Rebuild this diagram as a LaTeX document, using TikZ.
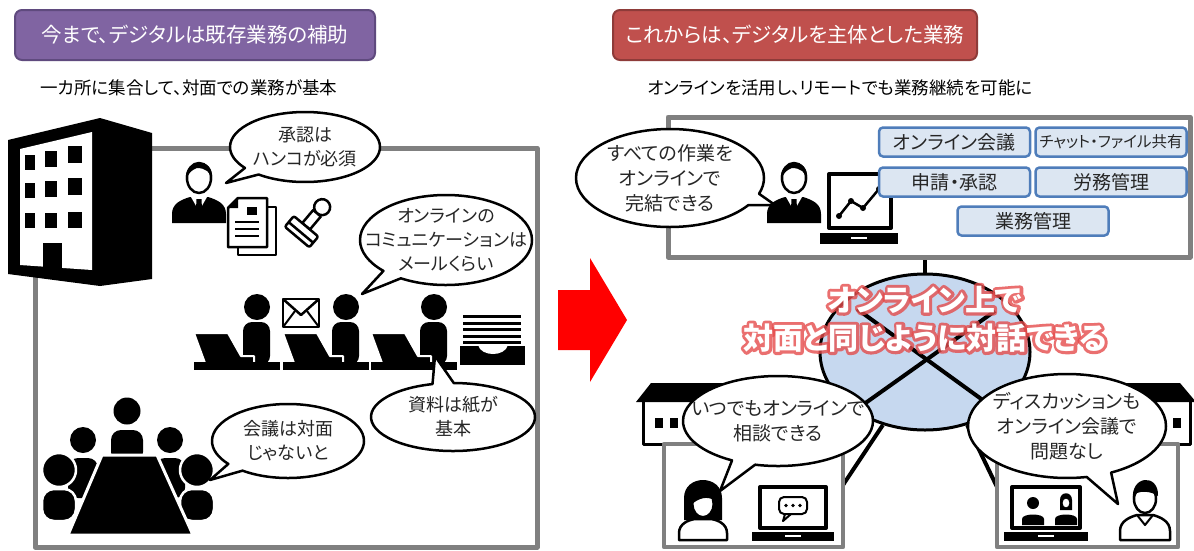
\documentclass[tikz,border=0pt]{standalone}
\usepackage{fontspec}
\setmainfont{Noto Sans CJK JP}[RawFeature=+palt]
\usetikzlibrary{shapes.callouts,shapes.geometric,calc}

\definecolor{hdrpurple}{HTML}{8064A2}
\definecolor{hdrpurpleedge}{HTML}{5F4A7E}
\definecolor{hdrred}{HTML}{C0504D}
\definecolor{hdrrededge}{HTML}{8E3B39}
\definecolor{panelgray}{HTML}{808080}
\definecolor{tagfill}{HTML}{DCE6F2}
\definecolor{tagedge}{HTML}{4F7DBA}
\definecolor{netblue}{HTML}{C6D8EF}
\definecolor{txtdark}{HTML}{262626}

\newcommand\onlinetalk{オンライン上で\\対面と同じように対話できる}
% outline-only text (PDF text render mode 1) for the red halo
\newcommand\haloon{\special{pdf:code 1 Tr 1 j 1 J 6 w 0.90 0.30 0.30 RG}}
\newcommand\halooff{\special{pdf:code 0 Tr}}

\tikzset{
  hdr/.style={rounded corners=7pt, line width=2pt, minimum height=50pt, text=white,
    font=\fontsize{20.5pt}{25pt}\selectfont},
  subline/.style={font=\fontsize{17.5pt}{21pt}\selectfont, text=black},
  panel/.style={draw=panelgray, line width=5pt, inner sep=0pt},
  bubble/.style={ellipse callout, draw=black, fill=white, line width=2.5pt, inner sep=0pt},
  btxt/.style={align=center, text=txtdark, font=\fontsize{18pt}{24pt}\selectfont, inner sep=0pt},
  rtxt/.style={align=center, text=txtdark, font=\fontsize{19pt}{25pt}\selectfont, inner sep=0pt},
  tag/.style={draw=tagedge, fill=tagfill, line width=2.5pt, rounded corners=4pt,
    minimum width=151pt, minimum height=29pt, inner sep=0pt, text=txtdark,
    font=\fontsize{19pt}{21pt}\selectfont},
  link/.style={line width=4pt, black},
  ctxt/.style={align=center, inner sep=0pt, font=\fontsize{30pt}{38pt}\selectfont\bfseries},
  % man in a suit, origin at the face centre
  suitman/.pic={
    \fill (-27,47) -- (-27,38) .. controls (-27,28) and (-19,24) .. (-9,21) -- (9,21)
      .. controls (19,24) and (27,28) .. (27,38) -- (27,47) -- cycle;
    \fill[white] (-8,21) -- (0,35) -- (8,21) -- cycle;
    \fill (-2.5,23) -- (2.5,23) -- (3,33) -- (0,37) -- (-3,33) -- cycle;
    \filldraw[fill=white, line width=2.5pt] (0,2) ellipse (12 and 15);
    \fill (-13,4) .. controls (-16,-17) and (16,-21) .. (13,4)
      .. controls (12,-4) and (6,-8) .. (-2,-8) .. controls (-8,-6) and (-11,-2) .. (-13,4) -- cycle;
  },
  % office worker at a laptop, origin at the head centre
  worker/.pic={
    \fill[rounded corners=9pt] (-14,58) -- (-14,15) -- (13,15) -- (13,58) -- cycle;
    \filldraw[fill=black, draw=white, line width=2pt] (-63,26) -- (-29,26) -- (-16,49)
      -- (-3,49) -- (-3,56) -- (-52,56) -- cycle;
    \fill (0,0) circle (13);
    \fill (-63,55) rectangle (23,63);
  },
}

\begin{document}
\begin{tikzpicture}[x=1pt, y=-1pt, line join=round]
\useasboundingbox (0,0) rectangle (1194,550);
\fill[white] (0,0) rectangle (1194,550);

% ---------- headings ----------
\node[hdr, fill=hdrpurple, draw=hdrpurpleedge, minimum width=360pt] (hdrL) at (195,35)
  {今まで、デジタルは既存業務の補助};
\node[hdr, fill=hdrred, draw=hdrrededge, minimum width=364pt] (hdrR) at (795,35)
  {これからは、デジタルを主体とした業務};
\node[subline] (subL) at (189,88) {一カ所に集合して、対面での業務が基本};
\node[subline] (subR) at (840,88) {オンラインを活用し、リモートでも業務継続を可能に};

% ---------- left: office ----------
\node[panel, minimum width=502pt, minimum height=399pt] (lpanel) at (286,347.5) {};

% building
\fill (8,140) -- (100,118) -- (152,133) -- (152,279) -- (100,286) -- (8,274) -- cycle;
\fill[white] (20,149) -- (92,132) -- (92,270) -- (20,265) -- cycle;
\fill (25,155) rectangle (35,170);
\fill (45,151) rectangle (57,167);
\fill (68,146) rectangle (82,163);
\fill (25,183) rectangle (35,198);
\fill (45,181) rectangle (57,197);
\fill (68,178) rectangle (82,195);
\fill (25,213) rectangle (35,228);
\fill (45,213) rectangle (57,228);
\fill (68,212) rectangle (82,228);
\fill (43,243) rectangle (62,268);

% clerk, papers and seal
\pic at (199,176) {suitman};
\filldraw[fill=white, line width=2.5pt] (238,207) rectangle (276,255);
\filldraw[fill=white, line width=2.5pt] (228,208) -- (238,198) -- (267,198) -- (267,247) -- (228,247) -- cycle;
\fill (228,208) -- (238,198) -- (238,208) -- cycle;
\fill (247,207) rectangle (257,215);
\foreach \yy in {222,229,236} \draw[line width=2.5pt] (235,\yy) -- (259,\yy);
\begin{scope}[shift={(308,224)}, rotate=-40]
  \filldraw[fill=white, line width=2.5pt] (0,-22) circle (8);
  \filldraw[fill=white, line width=2.5pt] (-5,-14) rectangle (5,3);
  \filldraw[fill=white, line width=2.5pt, rounded corners=2pt] (-16,3) rectangle (16,17);
  \draw[line width=2.5pt] (-16,11) -- (16,11);
\end{scope}

% desks with workers
\pic at (257,307) {worker};
\pic at (346,307) {worker};
\pic at (434,307) {worker};
% envelope
\filldraw[fill=white, line width=2.5pt] (283,299) rectangle (319,327);
\draw[line width=2.5pt] (283,299) -- (301,315) -- (319,299);
\draw[line width=2pt] (283,327) -- (295,311) (319,327) -- (307,311);
% paper tray
\foreach \yy in {315,321.5,328,334.5,341} \fill (463,\yy) rectangle (521,\yy+3);
\fill (460,346) rectangle (525,365);
\fill[white] (478,345) .. controls (481,357) and (505,357) .. (508,345) -- cycle;

% meeting table
\fill (83,440) circle (13);
\fill (170,440) circle (13);
\fill[rounded corners=10pt] (68,498) -- (68,458) -- (98,458) -- (98,498) -- cycle;
\fill[rounded corners=10pt] (155,498) -- (155,458) -- (185,458) -- (185,498) -- cycle;
\filldraw[fill=black, draw=white, line width=2.5pt, rounded corners=12pt]
  (42,521) -- (42,489) -- (76,489) -- (76,521) -- cycle;
\filldraw[fill=black, draw=white, line width=2.5pt, rounded corners=12pt]
  (180,521) -- (180,489) -- (214,489) -- (214,521) -- cycle;
\filldraw[fill=black, draw=white, line width=2.5pt] (59,470) circle (17);
\filldraw[fill=black, draw=white, line width=2.5pt] (197,470) circle (17);
\fill (127,411) circle (13.5);
\fill[rounded corners=10pt] (111,462) -- (111,430) -- (143,430) -- (143,462) -- cycle;
\filldraw[fill=black, draw=white, line width=3pt] (102,455) -- (157,455) -- (193,535) -- (68,535) -- cycle;

% speech bubbles
\node[bubble, minimum width=150pt, minimum height=70pt, callout absolute pointer={(226,183)}] (b1) at (305,147) {};
\node[btxt] (b1t) at (b1.center) {承認は\\ハンコが必須};
\node[bubble, minimum width=172pt, minimum height=90pt, callout absolute pointer={(362,294)}] (b2) at (446,240) {};
\node[btxt] (b2t) at (b2.center) {オンラインの\\コミュニケーションは\\メールくらい};
\node[bubble, minimum width=164pt, minimum height=68pt, callout absolute pointer={(435,356)}] (b3) at (453,417) {};
\node[btxt] (b3t) at (b3.center) {資料は紙が\\基本};
\node[bubble, minimum width=152pt, minimum height=74pt, callout absolute pointer={(210,480)}] (b4) at (288,441) {};
\node[btxt] (b4t) at (b4.center) {会議は対面\\じゃないと};

% ---------- arrow ----------
\fill[red] (558,290) -- (590,290) -- (590,258) -- (627,320) -- (590,382) -- (590,350) -- (558,350) -- cycle;

% ---------- right: online ----------
\node[panel, minimum width=522pt, minimum height=140pt] (rpanel) at (929,187) {};

% network hub
\node[ellipse, draw=black, fill=netblue, line width=3pt, minimum width=210pt, minimum height=156pt, inner sep=0pt] (net) at (925,352) {};
\draw[link] (net.north) -- (net.north |- rpanel.south);
\coordinate (xa1) at (857,309);
\coordinate (xa2) at (1002,414);
\coordinate (xb1) at (995,311);
\coordinate (xb2) at (850,414);
\draw[link] (xa1) -- (xa2);
\draw[link] (xb1) -- (xb2);
\coordinate (hL) at (843,485);
\coordinate (hR) at (997,487);
\draw[link] (net.240) -- (hL);
\draw[link] (net.300) -- (hR);

% caption with a red halo behind white letters
\coordinate (ctr) at (925,319);
\node[ctxt, opacity=0.8] (halo) at (ctr) {\haloon\onlinetalk\halooff};
\node[ctxt, text=white] (ctxt) at (ctr) {\onlinetalk};

% homes
\fill (636,402) -- (651,383) -- (760,383) -- (760,402) -- cycle;
\draw[line width=3pt] (643,402) -- (643,444) -- (664,444);
\fill (655,418) rectangle (663,428);
\fill (670,418) rectangle (678,428);
\node[panel, line width=4.5pt, minimum width=179pt, minimum height=103pt] (houseL) at (753.5,495.5) {};

\fill (1030,402) -- (1030,383) -- (1180,383) -- (1196,402) -- cycle;
\draw[line width=3pt] (1190,402) -- (1190,444) -- (1178,444);
\fill (1173,418) rectangle (1181,428);
\node[panel, line width=4.5pt, minimum width=181pt, minimum height=103pt] (houseR) at (1087.5,495.5) {};

% woman at home
\begin{scope}[shift={(703,510)}]
  \fill (-19,10) -- (-19,-12) .. controls (-19,-36) and (19,-36) .. (19,-12) -- (19,10) -- cycle;
  \filldraw[fill=white, line width=2.5pt] (-24,30) -- (-24,23) .. controls (-24,14) and (-15,10) .. (-8,9)
    -- (8,9) .. controls (15,10) and (24,14) .. (24,23) -- (24,30) -- cycle;
  \filldraw[fill=white, line width=2pt] (0,-6) ellipse (10.5 and 13);
  \fill (-11,-6) .. controls (-12,-20) and (8,-24) .. (11,-10) .. controls (4,-14) and (-4,-12) .. (-11,-6) -- cycle;
\end{scope}
% laptop with chat
\filldraw[fill=white, line width=4pt] (760,487) rectangle (826,528);
\fill (752,532) rectangle (834,541);
\fill[white] (785,535) rectangle (801,537);
\draw[line width=2pt, rounded corners=5pt] (779,497) rectangle (807,514);
\draw[line width=2pt] (785,514) -- (783,521) -- (791,514);
\foreach \xx in {786,793,800} \fill (\xx,505.5) circle (1.8);

% laptop with video call
\filldraw[fill=white, line width=4pt] (1012,487) rectangle (1080,528);
\fill (1004,532) rectangle (1088,541);
\fill[white] (1038,535) rectangle (1054,537);
\fill (1033,503) circle (6);
\fill (1022,525) -- (1022,519) .. controls (1022,513) and (1044,513) .. (1044,519) -- (1044,525) -- cycle;
\fill (1060,510) -- (1060,500) .. controls (1060,491) and (1072,491) .. (1072,500) -- (1072,510) -- cycle;
\filldraw[fill=white, draw=black, line width=1pt] (1066,503) ellipse (4 and 5);
\fill (1055,525) -- (1055,519) .. controls (1055,513) and (1077,513) .. (1077,519) -- (1077,525) -- cycle;

% man at home
\begin{scope}[shift={(1145,505)}]
  \filldraw[fill=white, line width=2.5pt] (-25,35) -- (-25,26) .. controls (-25,16) and (-15,12) .. (-8,10)
    -- (8,10) .. controls (15,12) and (25,16) .. (25,26) -- (25,35) -- cycle;
  \draw[line width=2pt] (-8,10) -- (0,20) -- (8,10);
  \filldraw[fill=white, line width=2.5pt] (0,-6) ellipse (11 and 14);
  \fill (-12,-5) .. controls (-15,-30) and (14,-32) .. (13,-9) .. controls (6,-14) and (-4,-14) .. (-8,-12)
    -- (-12,-5) -- cycle;
\end{scope}

% desk work in the upper panel
\pic at (794,176) {suitman};
\filldraw[fill=white, line width=4pt] (829,174) rectangle (891,228);
\draw[line width=2.5pt] (839,216) -- (851,201) -- (863,208) -- (879,189);
\foreach \p in {(839,216),(851,201),(863,208),(879,189)} \fill \p circle (3);
\fill (820,233) rectangle (898,244);
\fill[white] (851,237) rectangle (867,239);

\node[tag] (t1) at (954.5,142) {オンライン会議};
\node[tag, font=\fontsize{15.5pt}{18pt}\selectfont] (t2) at (1111,142) {チャット・ファイル共有};
\node[tag] (t3) at (954.5,182) {申請・承認};
\node[tag] (t4) at (1111,182) {労務管理};
\node[tag] (t5) at (1033,221) {業務管理};

% speech bubbles on the right
\node[bubble, minimum width=188pt, minimum height=98pt, callout absolute pointer={(775,205)}] (ba) at (670,178) {};
\node[rtxt] (bat) at (ba.center) {すべての作業を\\オンラインで\\完結できる};
\node[bubble, minimum width=190pt, minimum height=90pt, callout absolute pointer={(720,491)}] (bl) at (778,421) {};
\node[rtxt] (blt) at (bl.center) {いつでもオンラインで\\相談できる};
\node[bubble, minimum width=198pt, minimum height=104pt, callout absolute pointer={(1118,504)}] (br) at (1067,426) {};
\node[rtxt] (brt) at (br.center) {ディスカッションも\\オンライン会議で\\問題なし};
\end{tikzpicture}
\end{document}
